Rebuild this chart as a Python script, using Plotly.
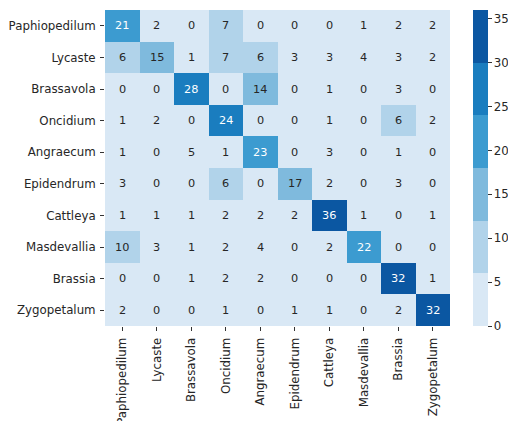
import plotly.graph_objects as go

labels = ["Paphiopedilum", "Lycaste", "Brassavola", "Oncidium", "Angraecum",
          "Epidendrum", "Cattleya", "Masdevallia", "Brassia", "Zygopetalum"]

matrix = [
    [21, 2, 0, 7, 0, 0, 0, 1, 2, 2],
    [6, 15, 1, 7, 6, 3, 3, 4, 3, 2],
    [0, 0, 28, 0, 14, 0, 1, 0, 3, 0],
    [1, 2, 0, 24, 0, 0, 1, 0, 6, 2],
    [1, 0, 5, 1, 23, 0, 3, 0, 1, 0],
    [3, 0, 0, 6, 0, 17, 2, 0, 3, 0],
    [1, 1, 1, 2, 2, 2, 36, 1, 0, 1],
    [10, 3, 1, 2, 4, 0, 2, 22, 0, 0],
    [0, 0, 1, 2, 2, 0, 0, 0, 32, 1],
    [2, 0, 0, 1, 0, 1, 1, 0, 2, 32],
]

colorbar_ticks = [0, 5, 10, 15, 20, 25, 30, 35]
palette = ["#d9e8f5", "#b1d3ea", "#7fbadd", "#3c9bd0", "#1a7dbf", "#0b57a2"]

FS = 11.8
zmax = max(max(r) for r in matrix)
n = len(palette)
colorscale = []
for i, c in enumerate(palette):
    colorscale.append([i / n, c])
    colorscale.append([(i + 1) / n, c])

fig = go.Figure(go.Heatmap(
    z=matrix, x=labels, y=labels,
    zmin=0, zmax=zmax,
    colorscale=colorscale,
    showscale=True,
    colorbar=dict(
        x=(473 - 105) / 345, xanchor="left", xpad=0, ypad=0,
        y=0.5, yanchor="middle",
        len=1.0, lenmode="fraction", thickness=15,
        outlinewidth=0, ticks="outside", ticklen=4, tickwidth=1,
        tickcolor="#333", tickvals=colorbar_ticks,
        tickfont=dict(family="DejaVu Sans", size=FS, color="#262626"),
    ),
))

threshold = 20
for i, row in enumerate(matrix):
    for j, v in enumerate(row):
        fig.add_annotation(
            x=labels[j], y=labels[i], text=str(v), showarrow=False,
            font=dict(family="DejaVu Sans", size=11.3,
                      color="white" if v >= threshold else "#262626"),
        )

fig.update_xaxes(
    tickangle=-90, ticks="outside", ticklen=4, tickcolor="#333",
    ticklabelstandoff=2,
    tickfont=dict(family="DejaVu Sans", size=FS, color="#262626"),
    showgrid=False, zeroline=False, showline=False,
)
fig.update_yaxes(
    autorange="reversed", ticks="outside", ticklen=4, tickcolor="#333",
    ticklabelstandoff=2,
    tickfont=dict(family="DejaVu Sans", size=FS, color="#262626"),
    showgrid=False, zeroline=False, showline=False,
)
fig.update_layout(
    width=508, height=421,
    margin=dict(l=105, r=58, t=10, b=95, autoexpand=False),
    paper_bgcolor="white", plot_bgcolor="white",
)
fig.write_html("out.html")
